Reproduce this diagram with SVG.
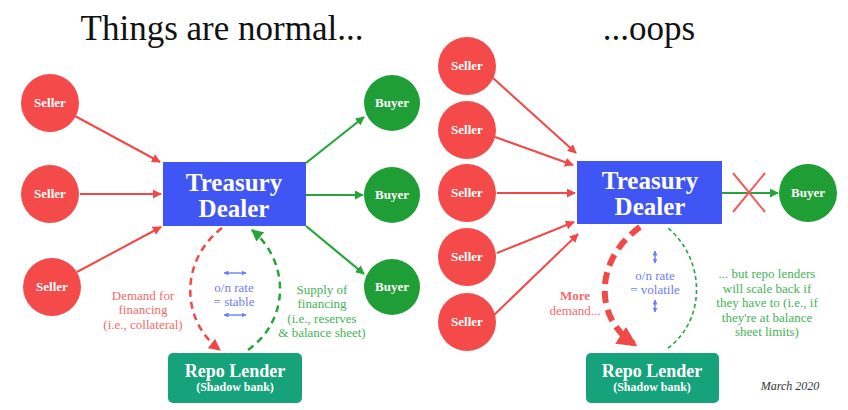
<svg xmlns="http://www.w3.org/2000/svg" width="848" height="410" viewBox="0 0 848 410">
<defs>
<style>
.title{font-family:"Liberation Serif",serif;font-size:35px;fill:#111}
.seller{fill:#f44a4a}
.buyer{fill:#1f9e36}
.dealer{fill:#3f55f4}
.repo{fill:#16a27a}
.lbl{font-family:"Liberation Serif",serif;font-weight:bold;fill:#fff;text-anchor:middle}
.node{font-size:13px}
.big{font-size:25px}
.rl{font-size:18px}
.sb{font-size:12px}
.note{font-family:"Liberation Serif",serif;font-size:13px;text-anchor:middle}
.rn{fill:#f36a6a}
.gn{fill:#45b256}
.bn{fill:#6d7ef2}
.ra{stroke:#f24848;stroke-width:2;fill:none}
.ga{stroke:#24a53a;stroke-width:2.2;fill:none}
.ba{stroke:#6d7ef2;stroke-width:1.4;fill:none}
</style>
<marker id="mr" viewBox="0 0 10 10" refX="9" refY="5" markerWidth="9" markerHeight="9" markerUnits="userSpaceOnUse" orient="auto"><path d="M0,0L10,5L0,10z" fill="#f24848"/></marker>
<marker id="mg" viewBox="0 0 10 10" refX="9" refY="5" markerWidth="9" markerHeight="9" markerUnits="userSpaceOnUse" orient="auto"><path d="M0,0L10,5L0,10z" fill="#24a53a"/></marker>
<marker id="mr2" viewBox="0 0 10 10" refX="9" refY="5" markerWidth="12" markerHeight="12" markerUnits="userSpaceOnUse" orient="auto"><path d="M0,0L10,5L0,10z" fill="#f24848"/></marker>
<marker id="mg2" viewBox="0 0 10 10" refX="9" refY="5" markerWidth="12" markerHeight="12" markerUnits="userSpaceOnUse" orient="auto"><path d="M0,0L10,5L0,10z" fill="#24a53a"/></marker>
<marker id="mrb" viewBox="0 0 10 10" refX="8" refY="5" markerWidth="20" markerHeight="20" markerUnits="userSpaceOnUse" orient="auto"><path d="M0,0L10,5L0,10z" fill="#f24848"/></marker>
<marker id="mb" viewBox="0 0 10 10" refX="9" refY="5" markerWidth="5" markerHeight="5" markerUnits="userSpaceOnUse" orient="auto-start-reverse"><path d="M0,0L10,5L0,10z" fill="#6d7ef2"/></marker>
</defs>
<rect width="848" height="410" fill="#fff"/>
<text class="title" x="222" y="40" text-anchor="middle">Things are normal...</text>
<text class="title" x="649" y="40" text-anchor="middle">...oops</text>

<g id="connectors">
<line class="ra" x1="75" y1="116" x2="160" y2="162" marker-end="url(#mr)"/>
<line class="ra" x1="80" y1="194" x2="161" y2="194" marker-end="url(#mr)"/>
<line class="ra" x1="77" y1="272" x2="161" y2="227" marker-end="url(#mr)"/>
<line class="ga" x1="306" y1="163" x2="364" y2="117" marker-end="url(#mg)"/>
<line class="ga" x1="306" y1="195" x2="363" y2="195" marker-end="url(#mg)"/>
<line class="ga" x1="306" y1="226" x2="364" y2="274" marker-end="url(#mg)"/>
<path d="M222,228 C180,260 180,320 220,350" stroke="#f24848" stroke-width="2.5" stroke-dasharray="7 5" fill="none" marker-end="url(#mr2)"/>
<path d="M248,350 C290,320 290,262 252,230" stroke="#24a53a" stroke-width="2.5" stroke-dasharray="7 5" fill="none" marker-end="url(#mg2)"/>
<line class="ba" x1="224" y1="273" x2="246" y2="273" marker-start="url(#mb)" marker-end="url(#mb)"/>
<line class="ba" x1="224" y1="315" x2="246" y2="315" marker-start="url(#mb)" marker-end="url(#mb)"/>

<line class="ra" x1="493" y1="78" x2="576" y2="153" marker-end="url(#mr)"/>
<line class="ra" x1="495" y1="137" x2="573" y2="165" marker-end="url(#mr)"/>
<line class="ra" x1="497" y1="193" x2="575" y2="193" marker-end="url(#mr)"/>
<line class="ra" x1="497" y1="253" x2="574" y2="222" marker-end="url(#mr)"/>
<line class="ra" x1="494" y1="315" x2="578" y2="234" marker-end="url(#mr)"/>
<line class="ga" x1="722" y1="193" x2="778" y2="193" marker-end="url(#mg)"/>
<line x1="733" y1="173" x2="765" y2="212" stroke="#f45a5a" stroke-width="2"/>
<line x1="765" y1="173" x2="733" y2="212" stroke="#f45a5a" stroke-width="2"/>
<path d="M640,227 C594,260 594,318 634,344" stroke="#f24848" stroke-width="6" stroke-dasharray="12 7" fill="none" marker-end="url(#mrb)"/>
<path d="M668,348 C706,320 706,260 668,228" stroke="#24a53a" stroke-width="1.6" stroke-dasharray="4 3" fill="none"/>
<line class="ba" x1="655" y1="251" x2="655" y2="263" marker-start="url(#mb)" marker-end="url(#mb)"/>
<line class="ba" x1="655" y1="300" x2="655" y2="312" marker-start="url(#mb)" marker-end="url(#mb)"/>
</g>

<g id="seller-l1"><circle class="seller" cx="50" cy="103" r="29"/><text class="lbl node" x="50" y="107">Seller</text></g>
<g id="seller-l2"><circle class="seller" cx="50" cy="194" r="29"/><text class="lbl node" x="50" y="198">Seller</text></g>
<g id="seller-l3"><circle class="seller" cx="52" cy="287" r="29"/><text class="lbl node" x="52" y="291">Seller</text></g>
<g id="buyer-l1"><circle class="buyer" cx="392" cy="103" r="28"/><text class="lbl node" x="392" y="107">Buyer</text></g>
<g id="buyer-l2"><circle class="buyer" cx="392" cy="195" r="28"/><text class="lbl node" x="392" y="199">Buyer</text></g>
<g id="buyer-l3"><circle class="buyer" cx="392" cy="287" r="28"/><text class="lbl node" x="392" y="291">Buyer</text></g>
<g id="dealer-l"><rect class="dealer" x="163" y="162" width="143" height="64"/><text class="lbl big" x="234" y="191">Treasury</text><text class="lbl big" x="234" y="217">Dealer</text></g>
<g id="repo-l"><rect class="repo" x="168" y="353" width="134" height="50" rx="5"/><text class="lbl rl" x="235" y="377">Repo Lender</text><text class="lbl sb" x="235" y="391">(Shadow bank)</text></g>

<g id="notes-l">
<text class="note rn" x="143" y="300">Demand for</text>
<text class="note rn" x="143" y="314">financing</text>
<text class="note rn" x="143" y="329">(i.e., collateral)</text>
<text class="note bn" x="234" y="292">o/n rate</text>
<text class="note bn" x="234" y="306">= stable</text>
<text class="note gn" x="322" y="294">Supply of</text>
<text class="note gn" x="322" y="308">financing</text>
<text class="note gn" x="322" y="323">(i.e., reserves</text>
<text class="note gn" x="322" y="337">&amp; balance sheet)</text>
</g>

<g id="seller-r1"><circle class="seller" cx="467" cy="66" r="29"/><text class="lbl node" x="467" y="70">Seller</text></g>
<g id="seller-r2"><circle class="seller" cx="467" cy="130" r="29"/><text class="lbl node" x="467" y="134">Seller</text></g>
<g id="seller-r3"><circle class="seller" cx="467" cy="193" r="29"/><text class="lbl node" x="467" y="197">Seller</text></g>
<g id="seller-r4"><circle class="seller" cx="467" cy="257" r="29"/><text class="lbl node" x="467" y="261">Seller</text></g>
<g id="seller-r5"><circle class="seller" cx="467" cy="322" r="29"/><text class="lbl node" x="467" y="326">Seller</text></g>
<g id="dealer-r"><rect class="dealer" x="577" y="161" width="145" height="63"/><text class="lbl big" x="650" y="189">Treasury</text><text class="lbl big" x="650" y="215">Dealer</text></g>
<g id="buyer-r"><circle class="buyer" cx="808" cy="193" r="29"/><text class="lbl node" x="808" y="197">Buyer</text></g>
<g id="repo-r"><rect class="repo" x="586" y="353" width="133" height="50" rx="5"/><text class="lbl rl" x="652" y="377">Repo Lender</text><text class="lbl sb" x="652" y="391">(Shadow bank)</text></g>

<g id="notes-r">
<text class="note rn" x="575" y="300" font-weight="bold" font-size="14">More</text>
<text class="note rn" x="575" y="315" font-size="12">demand...</text>
<text class="note bn" x="655" y="280">o/n rate</text>
<text class="note bn" x="655" y="294">= volatile</text>
<text class="note gn" x="767" y="278">... but repo lenders</text>
<text class="note gn" x="767" y="293">will scale back if</text>
<text class="note gn" x="767" y="307">they have to (i.e., if</text>
<text class="note gn" x="767" y="322">they're at balance</text>
<text class="note gn" x="767" y="336">sheet limits)</text>
<text x="790" y="390" font-family="Liberation Serif, serif" font-style="italic" font-size="12" fill="#333" text-anchor="middle">March 2020</text>
</g>
</svg>
